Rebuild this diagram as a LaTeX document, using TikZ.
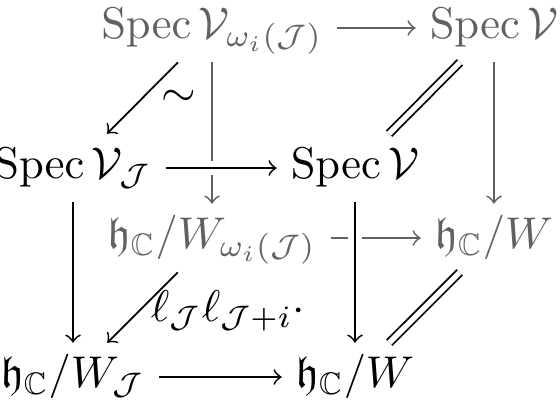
\documentclass[tikz,border=0pt]{standalone}
\usepackage{amsmath,amssymb}
\begin{document}
\begin{tikzpicture}[x=0.225pt, y=-0.225pt,
    obj/.style={inner sep=3pt, text height=1.6ex, text depth=0.5ex},
    back/.style={black!62},
    eq/.style={double, double distance=1.2pt, line width=0.4pt},
    over/.style={preaction={draw=white, line width=3pt, -}}]
    \useasboundingbox (0,0) rectangle (560,401);

    % back face
    \node[obj, back] (sVw) at (212,28) {$\operatorname{Spec}\mathcal{V}_{\omega_i(\mathcal{J})}$};
    \node[obj, back] (sV) at (494,28) {$\operatorname{Spec}\mathcal{V}$};
    \node[obj, back] (hWw) at (212,238) {$\mathfrak{h}_{\mathbb{C}}/W_{\omega_i(\mathcal{J})}$};
    \node[obj, back] (hW) at (494,238) {$\mathfrak{h}_{\mathbb{C}}/W$};

    % front face
    \node[obj] (sVJ) at (73,168) {$\operatorname{Spec}\mathcal{V}_{\mathcal{J}}$};
    \node[obj] (sVf) at (355,168) {$\operatorname{Spec}\mathcal{V}$};
    \node[obj] (hWJ) at (73,377) {$\mathfrak{h}_{\mathbb{C}}/W_{\mathcal{J}}$};
    \node[obj] (hWf) at (355,377) {$\mathfrak{h}_{\mathbb{C}}/W$};

    \draw[->, back] (sVw) -- (sV);
    \draw[->, back] (sVw) -- (hWw);
    \draw[->, back] (sV) -- (hW);
    \draw[->, back] (hWw) -- (hW);

    \draw[->] (sVw) -- node[right, inner sep=4pt] {$\sim$} (sVJ);
    \draw[eq] (sV) -- (sVf);
    \draw[->] (hWw) -- node[right, inner sep=2.5pt, pos=0.55] {$\ell_{\mathcal{J}}\ell_{\mathcal{J}+i}\cdot$} (hWJ);
    \draw[eq] (hW) -- (hWf);

    \draw[->, over] (sVJ) -- (sVf);
    \draw[->] (sVJ) -- (hWJ);
    \draw[->, over] (sVf) -- (hWf);
    \draw[->] (hWJ) -- (hWf);
\end{tikzpicture}
\end{document}
